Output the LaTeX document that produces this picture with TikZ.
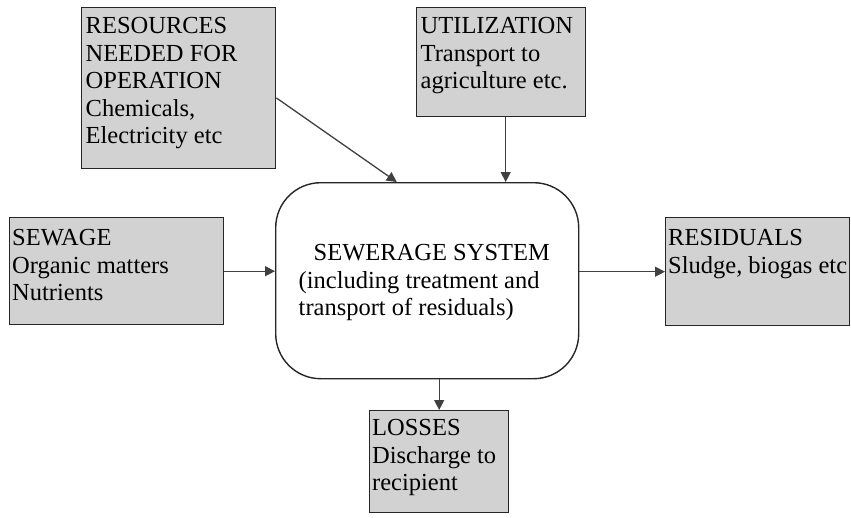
\documentclass[tikz,border=0pt]{standalone}
\usepackage{fontspec}
\setmainfont{Liberation Serif}
\usetikzlibrary{arrows.meta,calc}

% Top-aligned block of left-aligned lines: width, height, left pad, first baseline, lines
\newcommand{\boxlines}[5]{%
  \parbox[c][#2][t]{#1}{\raggedright\leftskip=#3\rule{0pt}{#4}#5\par}}

\tikzset{
  feed/.style={draw=black!85, line width=1.4pt, fill=gray!35, inner sep=0pt,
               anchor=north west, font=\fontsize{24.5}{27.5}\selectfont},
  hub/.style={draw=black!85, line width=1.4pt, rounded corners=45pt, inner sep=0pt,
              anchor=north west, font=\fontsize{24.5}{27.5}\selectfont},
  flow/.style={draw=black!75, line width=1.3pt, -{Triangle[length=10pt,width=10pt]}}
}

\begin{document}
\begin{tikzpicture}[x=1pt,y=-1pt]
  \useasboundingbox (0,0) rectangle (851,517);

  % central system
  \node[hub] (sys) at (275,182)
    {\boxlines{303pt}{196pt}{23pt}{78pt}{\hspace*{15pt}SEWERAGE SYSTEM\\(including treatment and\\transport of residuals)}};

  % surrounding flows
  \node[feed] (res) at (81,7)
    {\boxlines{194pt}{161pt}{4pt}{26pt}{RESOURCES\\NEEDED FOR\\OPERATION\\Chemicals,\\Electricity etc}};
  \node[feed] (util) at (416,7)
    {\boxlines{169pt}{109pt}{4pt}{26pt}{UTILIZATION\\Transport to\\agriculture etc.}};
  \node[feed] (sew) at (9,217)
    {\boxlines{214pt}{107pt}{2.5pt}{28pt}{SEWAGE\\Organic matters\\Nutrients}};
  \node[feed] (resid) at (665,217)
    {\boxlines{184pt}{108pt}{2.5pt}{28pt}{RESIDUALS\\Sludge, biogas etc}};
  \node[feed] (loss) at (369,410)
    {\boxlines{139pt}{102pt}{2.5pt}{25pt}{LOSSES\\Discharge to\\recipient}};

  % connectors
  \draw[flow] ($(res.north east)!0.56!(res.south east)$) -- ($(sys.north west)!0.4!(sys.north east)$);
  \draw[flow] ([xshift=4.5pt]util.south) -- ([xshift=4.5pt]util.south |- sys.north);
  \draw[flow] (sew.east) -- (sew.east -| sys.west);
  \draw[flow] (sys.east |- resid.west) -- (resid.west);
  \draw[flow] (sys.south -| loss.north) -- (loss.north);
\end{tikzpicture}
\end{document}
